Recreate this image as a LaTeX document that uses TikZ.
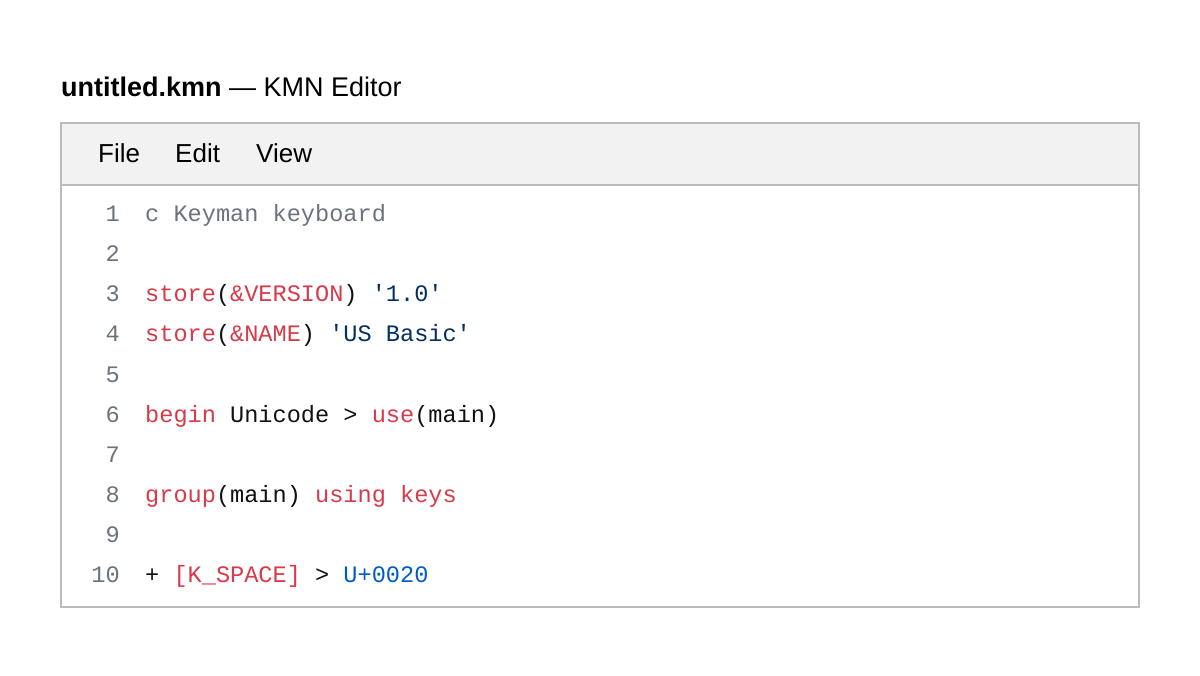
\documentclass[tikz,border=0pt]{standalone}
\usepackage{fontspec}
\setmainfont{Liberation Sans}
\setmonofont{Liberation Mono}
\definecolor{kwred}{HTML}{D73A49}
\definecolor{strblue}{HTML}{032F62}
\definecolor{numblue}{HTML}{005CC5}
\definecolor{cmtgray}{HTML}{6A737D}
\definecolor{txtblack}{HTML}{111111}
\definecolor{framegray}{HTML}{BBBBBB}
\definecolor{barfill}{HTML}{F2F2F2}
\begin{document}
\begin{tikzpicture}[x=1pt,y=-1pt,
		codeline/.style={anchor=base west, inner sep=0, font=\fontsize{23.6}{28}\ttfamily, text=txtblack},
		linenum/.style={anchor=base east, inner sep=0, font=\fontsize{23.6}{28}\ttfamily, text=cmtgray},
		menuitem/.style={anchor=base west, inner sep=0, font=\fontsize{26}{30}\selectfont},
		]
		\useasboundingbox (0,0) rectangle (1200,676);
		%Title
		\node[anchor=base west, inner sep=0, font=\fontsize{27}{32}\selectfont] (title) at (61,97)
			{\textbf{untitled.kmn} — KMN Editor};
		%Frame and menu bar
		\fill[barfill] (61,123) rectangle (1139,185);
		\draw[framegray, line width=1.5] (61,185) -- (1139,185);
		\draw[framegray, line width=1.5] (61,123) rectangle (1139,607);
		\node[menuitem] (file) at (98,163) {File};
		\node[menuitem] (edit) at (175,163) {Edit};
		\node[menuitem] (view) at (256,163) {View};
		%Line numbers
		\foreach \n in {1,...,10}
			\node[linenum] (num-\n) at (120,{182+40*\n}) {\n};
		%Code
		\node[codeline, text=cmtgray] (line-1) at (145,222) {c Keyman keyboard};
		\node[codeline] (line-3) at (145,302) {\textcolor{kwred}{store}(\textcolor{kwred}{\&VERSION}) \textcolor{strblue}{'1.0'}};
		\node[codeline] (line-4) at (145,342) {\textcolor{kwred}{store}(\textcolor{kwred}{\&NAME}) \textcolor{strblue}{'US Basic'}};
		\node[codeline] (line-6) at (145,422) {\textcolor{kwred}{begin} Unicode > \textcolor{kwred}{use}(main)};
		\node[codeline] (line-8) at (145,502) {\textcolor{kwred}{group}(main) \textcolor{kwred}{using keys}};
		\node[codeline] (line-10) at (145,582) {+ \textcolor{kwred}{[K\_SPACE]} > \textcolor{numblue}{U+0020}};
	\end{tikzpicture}
\end{document}
